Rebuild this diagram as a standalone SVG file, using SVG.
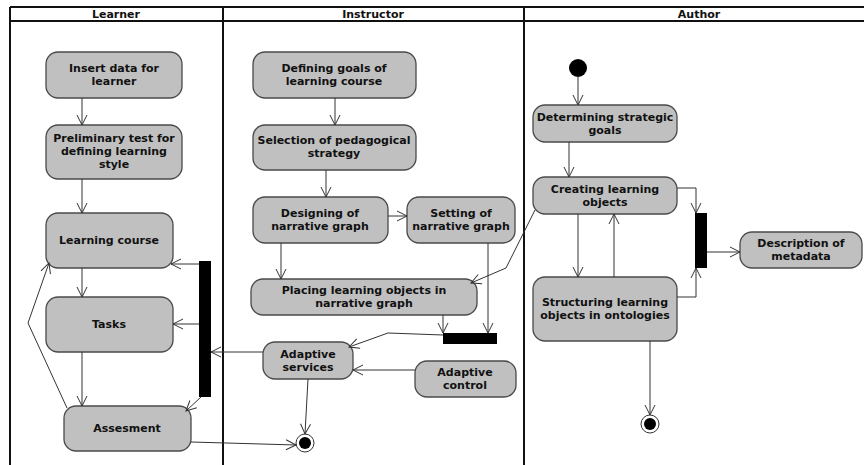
<svg xmlns="http://www.w3.org/2000/svg" width="864" height="465" viewBox="0 0 864 465">
  <defs>
    <style>
      .lane { stroke: #111; stroke-width: 2; fill: none; }
      .head { font-family: "DejaVu Sans", Verdana, sans-serif; font-size: 11px; font-weight: bold; fill: #111; text-anchor: middle; }
      .act rect { fill: #c0c0c0; stroke: #4a4a4a; stroke-width: 1.3; }
      .act text { font-family: "DejaVu Sans", Verdana, sans-serif; font-size: 11px; font-weight: bold; fill: #111; text-anchor: middle; }
      .bar { fill: #000; }
      .edge { stroke: #333; stroke-width: 1; fill: none; marker-end: url(#arr); }
    </style>
    <marker id="arr" markerUnits="userSpaceOnUse" markerWidth="14" markerHeight="14" viewBox="-12 -7 14 14" refX="0" refY="0" orient="auto">
      <path d="M-10,-5 L0,0 L-10,5" fill="none" stroke="#333" stroke-width="1"/>
    </marker>
  </defs>
  <rect x="0" y="0" width="864" height="465" fill="#fff"/>

  <!-- swimlanes -->
  <g id="lanes">
    <line class="lane" x1="10" y1="7" x2="864" y2="7"/>
    <line class="lane" x1="10" y1="21" x2="864" y2="21"/>
    <line class="lane" x1="10" y1="7" x2="10" y2="465"/>
    <line class="lane" x1="223" y1="7" x2="223" y2="465"/>
    <line class="lane" x1="524" y1="7" x2="524" y2="465"/>
    <text class="head" x="116" y="18">Learner</text>
    <text class="head" x="373" y="18">Instructor</text>
    <text class="head" x="699" y="18">Author</text>
  </g>

  <!-- Learner -->
  <g id="insert-data" class="act"><rect x="46" y="52" width="136" height="46" rx="12"/><text x="114" y="72">Insert data for</text><text x="114" y="85">learner</text></g>
  <g id="preliminary-test" class="act"><rect x="46" y="125" width="136" height="54" rx="12"/><text x="114" y="142">Preliminary test for</text><text x="114" y="155">defining learning</text><text x="114" y="168">style</text></g>
  <g id="learning-course" class="act"><rect x="46" y="213" width="127" height="55" rx="12"/><text x="109" y="244">Learning course</text></g>
  <g id="tasks" class="act"><rect x="46" y="297" width="127" height="55" rx="12"/><text x="109" y="328">Tasks</text></g>
  <g id="assesment" class="act"><rect x="64" y="406" width="127" height="45" rx="12"/><text x="127" y="432">Assesment</text></g>
  <g id="fork-learner"><rect class="bar" x="199" y="261" width="12" height="136"/></g>

  <!-- Instructor -->
  <g id="defining-goals" class="act"><rect x="253" y="52" width="163" height="46" rx="12"/><text x="334" y="72">Defining goals of</text><text x="334" y="85">learning course</text></g>
  <g id="selection-strategy" class="act"><rect x="253" y="125" width="163" height="45" rx="12"/><text x="334" y="144">Selection of pedagogical</text><text x="334" y="157">strategy</text></g>
  <g id="designing-graph" class="act"><rect x="253" y="197" width="135" height="46" rx="12"/><text x="320" y="217">Designing of</text><text x="320" y="230">narrative graph</text></g>
  <g id="setting-graph" class="act"><rect x="407" y="197" width="108" height="46" rx="12"/><text x="461" y="217">Setting of</text><text x="461" y="230">narrative graph</text></g>
  <g id="placing-objects" class="act"><rect x="251" y="279" width="226" height="36" rx="12"/><text x="364" y="294">Placing learning objects in</text><text x="364" y="307">narrative graph</text></g>
  <g id="join-instructor"><rect class="bar" x="443" y="333" width="54" height="11"/></g>
  <g id="adaptive-services" class="act"><rect x="263" y="342" width="90" height="37" rx="12"/><text x="308" y="358">Adaptive</text><text x="308" y="371">services</text></g>
  <g id="adaptive-control" class="act"><rect x="415" y="361" width="101" height="36" rx="12"/><text x="465" y="376">Adaptive</text><text x="465" y="389">control</text></g>
  <g id="final-instructor"><circle cx="305" cy="443" r="9" fill="#fff" stroke="#333" stroke-width="1"/><circle cx="305" cy="443" r="6" fill="#000"/></g>

  <!-- Author -->
  <g id="initial-author"><circle cx="578" cy="68" r="9" fill="#000"/></g>
  <g id="strategic-goals" class="act"><rect x="533" y="105" width="144" height="37" rx="12"/><text x="605" y="121">Determining strategic</text><text x="605" y="134">goals</text></g>
  <g id="creating-objects" class="act"><rect x="533" y="177" width="144" height="37" rx="12"/><text x="605" y="193">Creating learning</text><text x="605" y="206">objects</text></g>
  <g id="structuring-objects" class="act"><rect x="533" y="277" width="144" height="64" rx="12"/><text x="605" y="306">Structuring learning</text><text x="605" y="319">objects in ontologies</text></g>
  <g id="join-author"><rect class="bar" x="695" y="213" width="12" height="55"/></g>
  <g id="description-metadata" class="act"><rect x="740" y="232" width="122" height="36" rx="12"/><text x="801" y="247">Description of</text><text x="801" y="260">metadata</text></g>
  <g id="final-author"><circle cx="650" cy="424" r="9" fill="#fff" stroke="#333" stroke-width="1"/><circle cx="650" cy="424" r="6" fill="#000"/></g>

  <!-- connectors -->
  <g id="connectors">
    <path class="edge" d="M82,98 L82,125"/>
    <path class="edge" d="M82,179 L82,213"/>
    <path class="edge" d="M82,268 L82,297"/>
    <path class="edge" d="M82,352 L82,406"/>
    <path class="edge" d="M199,264 L171,264"/>
    <path class="edge" d="M199,324 L173,324"/>
    <path class="edge" d="M201,397 L186,411"/>
    <path class="edge" d="M67,408 L28,323 L49,263"/>
    <path class="edge" d="M191,442 L296,445"/>
    <path class="edge" d="M263,352 L211,352"/>

    <path class="edge" d="M335,98 L335,125"/>
    <path class="edge" d="M326,170 L326,197"/>
    <path class="edge" d="M388,216 L407,216"/>
    <path class="edge" d="M281,243 L281,279"/>
    <path class="edge" d="M535,210 L506,268 L471,283"/>
    <path class="edge" d="M443,315 L443,333"/>
    <path class="edge" d="M488,243 L488,333"/>
    <path class="edge" d="M443,335 L388,333 L349,347"/>
    <path class="edge" d="M415,370 L353,370"/>
    <path class="edge" d="M308,379 L305,434"/>

    <path class="edge" d="M578,77 L578,105"/>
    <path class="edge" d="M569,142 L569,177"/>
    <path class="edge" d="M578,214 L578,277"/>
    <path class="edge" d="M614,277 L614,214"/>
    <path class="edge" d="M677,188 L696,188 L696,213"/>
    <path class="edge" d="M677,297 L696,297 L696,268"/>
    <path class="edge" d="M707,252 L740,252"/>
    <path class="edge" d="M650,341 L650,415"/>
  </g>
</svg>
